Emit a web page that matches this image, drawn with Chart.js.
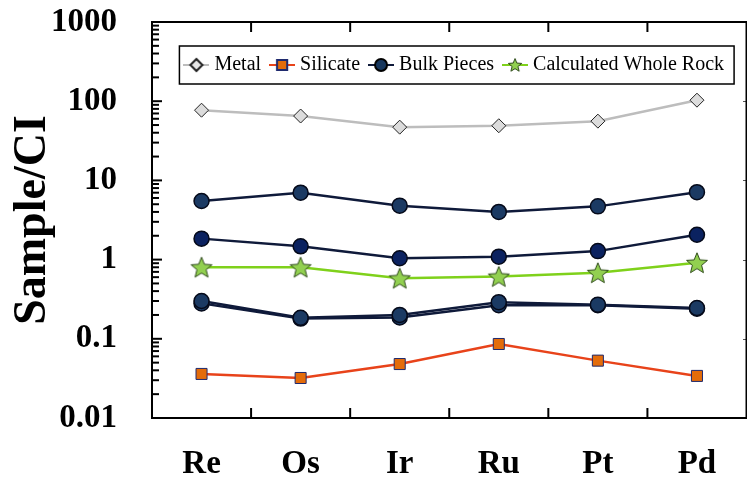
<!DOCTYPE html>
<html>
<head>
<meta charset="utf-8">
<script src="https://cdn.jsdelivr.net/npm/chart.js@4.4.0/dist/chart.umd.min.js"></script>
<style>
  html, body { margin: 0; padding: 0; background: #fff; overflow: hidden; }
  #wrap { width: 760px; height: 487px; }
</style>
</head>
<body>
<div id="wrap"><canvas id="chart" width="760" height="487"></canvas></div>
<script>
const categories = ["Re", "Os", "Ir", "Ru", "Pt", "Pd"];
const yTicks = [0.01, 0.1, 1, 10, 100, 1000];

const metal = [77, 65, 47, 49, 56, 103];
const silicate = [0.036, 0.032, 0.048, 0.086, 0.053, 0.034];
const bulkA = [5.5, 7.0, 4.8, 4.0, 4.7, 7.1];
const bulkB = [1.84, 1.47, 1.04, 1.09, 1.28, 2.06];
const bulkC = [0.30, 0.184, 0.20, 0.29, 0.27, 0.245];
const bulkD = [0.28, 0.18, 0.186, 0.266, 0.265, 0.24];
const wholeRock = [0.80, 0.80, 0.58, 0.61, 0.68, 0.91];

const SERIF = "'Liberation Serif', 'Times New Roman', serif";

function starCanvas(r, fill, stroke) {
  const c = document.createElement("canvas");
  const s = Math.ceil(r * 2 + 4);
  c.width = s; c.height = s;
  const ctx = c.getContext("2d");
  const cx = s / 2, cy = s / 2 + r * 0.08;
  ctx.beginPath();
  for (let i = 0; i < 10; i++) {
    const rad = i % 2 ? r * 0.44 : r;
    const a = -Math.PI / 2 + i * Math.PI / 5;
    ctx.lineTo(cx + rad * Math.cos(a), cy + rad * Math.sin(a));
  }
  ctx.closePath();
  ctx.fillStyle = fill; ctx.fill();
  ctx.lineWidth = 1; ctx.strokeStyle = stroke; ctx.stroke();
  return c;
}

const star = starCanvas(11, "#92d050", "#2e4a1a");
const starSmall = starCanvas(7, "#92d050", "#2e4a1a");

// legend icon: short line with marker on it
function icon(lineColor, style, radius, fill, border, bw) {
  const c = document.createElement("canvas");
  c.width = 26; c.height = 20;
  const ctx = c.getContext("2d");
  ctx.strokeStyle = lineColor; ctx.lineWidth = 2;
  ctx.beginPath(); ctx.moveTo(0, 10); ctx.lineTo(26, 10); ctx.stroke();
  if (style instanceof HTMLCanvasElement) {
    ctx.drawImage(style, 13 - style.width / 2, 10 - style.height / 2);
  } else {
    ctx.fillStyle = fill; ctx.strokeStyle = border;
    Chart.helpers.drawPoint(ctx, { pointStyle: style, radius: radius, rotation: 0, borderWidth: bw }, 13, 10);
  }
  return c;
}

const legendItems = [
  { text: "Metal", icon: icon("#bdbdbd", "rectRot", 6, "#e6e6e6", "#222", 1) },
  { text: "Silicate", icon: icon("#e8431a", "rect", 7.2, "#e46c0a", "#1f2a6e", 1) },
  { text: "Bulk Pieces", icon: icon("#0f1a3a", "circle", 6, "#17375e", "#000", 1) },
  { text: "Calculated Whole Rock", icon: icon("#7fd11b", starSmall) }
];

function bulk(data, fill) {
  return {
    label: "Bulk Pieces", data: data,
    borderColor: "#0f1a3a", borderWidth: 2.5,
    pointStyle: "circle", pointRadius: 7.5,
    pointBackgroundColor: fill, pointBorderColor: "#050a1a", pointBorderWidth: 1.5
  };
}

const frame = {
  id: "frame",
  beforeUpdate(chart) {
    // lay the in-plot legend out in one row
    chart.legend.isHorizontal = () => true;
  },
  afterLayout(chart) {
    const lg = chart.legend, a = chart.chartArea;
    const h = lg.height;
    lg.left = a.left + 14; lg.right = a.right; lg.width = lg.right - lg.left;
    lg.top = a.top + 20; lg.bottom = lg.top + h;
  },
  beforeDatasetsDraw(chart) {
    const { ctx, chartArea: a } = chart;
    const y = chart.scales.y, x = chart.scales.x;
    ctx.save();
    // dotted edge of the overlaid panel
    ctx.strokeStyle = "#9a9a9a"; ctx.lineWidth = 1; ctx.setLineDash([1, 2]);
    ctx.beginPath(); ctx.moveTo(746.5, a.top); ctx.lineTo(746.5, a.bottom); ctx.stroke();
    ctx.setLineDash([]);
    ctx.strokeStyle = "#555";
    [100, 10, 1, 0.1].forEach(v => {
      const py = Math.round(y.getPixelForValue(v)) + 0.5;
      ctx.beginPath(); ctx.moveTo(743, py); ctx.lineTo(747, py); ctx.stroke();
    });
    ctx.strokeStyle = "#000"; ctx.lineWidth = 2;
    ctx.strokeRect(a.left, a.top, a.right - a.left, a.bottom - a.top);
    // log ticks, inward
    for (let d = 0; d < yTicks.length; d++) {
      const py = y.getPixelForValue(yTicks[d]);
      ctx.beginPath(); ctx.moveTo(a.left, py); ctx.lineTo(a.left + 10, py); ctx.stroke();
      if (d === yTicks.length - 1) break;
      for (let m = 2; m <= 9; m++) {
        const pm = y.getPixelForValue(yTicks[d] * m);
        ctx.beginPath(); ctx.moveTo(a.left, pm); ctx.lineTo(a.left + 7, pm); ctx.stroke();
      }
    }
    for (let i = 0; i < categories.length - 1; i++) {
      const px = (x.getPixelForValue(i) + x.getPixelForValue(i + 1)) / 2;
      ctx.beginPath(); ctx.moveTo(px, a.bottom); ctx.lineTo(px, a.bottom - 10); ctx.stroke();
      ctx.beginPath(); ctx.moveTo(px, a.top); ctx.lineTo(px, a.top + 10); ctx.stroke();
    }
    // legend border
    const hb = chart.legend.legendHitBoxes;
    if (hb && hb.length) {
      const l = hb[0].left - 9, r = hb[hb.length - 1].left + hb[hb.length - 1].width + 10;
      const t = hb[0].top - 9, b = hb[0].top + hb[0].height + 9;
      ctx.lineWidth = 1.5;
      ctx.strokeRect(l, t, r - l, b - t);
    }
    ctx.restore();
  }
};

new Chart(document.getElementById("chart"), {
  type: "line",
  data: {
    labels: categories,
    datasets: [
      {
        label: "Metal", data: metal,
        borderColor: "#bdbdbd", borderWidth: 2.5,
        pointStyle: "rectRot", pointRadius: 7,
        pointBackgroundColor: "#dcdcdc", pointBorderColor: "#222", pointBorderWidth: 1
      },
      {
        label: "Silicate", data: silicate,
        borderColor: "#e8431a", borderWidth: 2.5,
        pointStyle: "rect", pointRadius: 7.8,
        pointBackgroundColor: "#e46c0a", pointBorderColor: "#1f2a6e", pointBorderWidth: 1
      },
      bulk(bulkA, "#1b3a63"),
      bulk(bulkB, "#0b2260"),
      bulk(bulkC, "#1b3a63"),
      bulk(bulkD, "#1b3a63"),
      {
        label: "Calculated Whole Rock", data: wholeRock,
        borderColor: "#7fd11b", borderWidth: 2.5,
        pointStyle: star, pointRadius: 11
      }
    ]
  },
  options: {
    responsive: false,
    animation: false,
    layout: { padding: { top: 22, right: 8, left: 0, bottom: 0 } },
    plugins: {
      tooltip: { enabled: false },
      legend: {
        position: "chartArea",
        fullSize: false,
        labels: {
          usePointStyle: true,
          pointStyleWidth: 16,
          padding: 13,
          color: "#000",
          font: { family: SERIF, size: 20 },
          generateLabels: () => legendItems.map(it => ({
            text: it.text, pointStyle: it.icon,
            fillStyle: "transparent", strokeStyle: "transparent",
            lineWidth: 0, hidden: false, fontColor: "#000"
          }))
        }
      }
    },
    scales: {
      x: {
        type: "category",
        offset: true,
        grid: { display: false, drawTicks: false },
        border: { display: false },
        ticks: { padding: 27, color: "#000", font: { family: SERIF, size: 33, weight: "bold" } },
        afterFit: s => { s.height = 69; }
      },
      y: {
        type: "logarithmic",
        min: 0.01,
        max: 1000,
        grid: { display: false, drawTicks: false },
        border: { display: false },
        afterBuildTicks: s => { s.ticks = yTicks.map(v => ({ value: v })); },
        ticks: {
          padding: 35, autoSkip: false, color: "#000",
          font: { family: SERIF, size: 33, weight: "bold" },
          callback: v => String(v)
        },
        title: {
          display: true, text: "Sample/CI", color: "#000",
          font: { family: SERIF, size: 46, weight: "bold" },
          padding: { top: 6, bottom: 0 }
        },
        afterFit: s => { s.width = 152; s.paddingTop = 0; s.paddingBottom = 0; }
      }
    }
  },
  plugins: [frame]
});
</script>
</body>
</html>
